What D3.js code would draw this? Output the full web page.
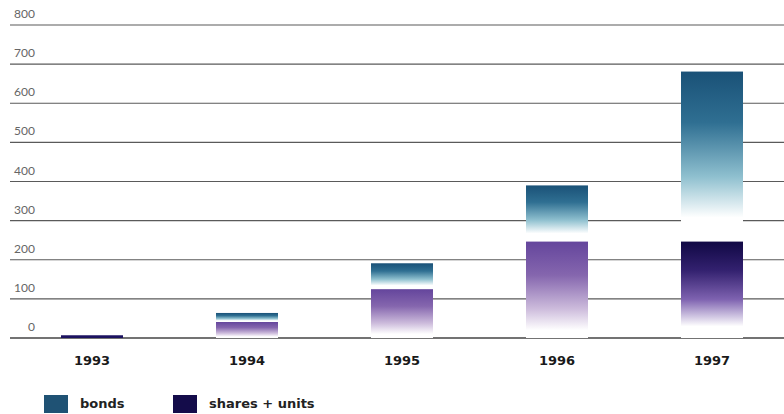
<!DOCTYPE html>
<html>
<head>
<meta charset="utf-8">
<script src="https://cdn.jsdelivr.net/npm/d3@7"></script>
<style>
  body { margin: 0; background: #fff; }
  text { font-family: Lato, "Open Sans", sans-serif; }
  .bold { font-family: "DejaVu Sans", sans-serif; font-weight: bold; }
</style>
</head>
<body>
<script>
// data
var years = ["1993", "1994", "1995", "1996", "1997"];
var shares = [7, 41, 125, 247, 247];
var bonds = [0, 23, 66, 143, 434];
var tickValues = [0, 100, 200, 300, 400, 500, 600, 700, 800];
var shareTone = ["navy", "purple", "purple", "purple", "navy"];

var width = 784, height = 414;

const svg = d3.select("body").append("svg")
    .attr("width", width)
    .attr("height", height);

//gradients
var defs = svg.append("defs");
function grad(id, stops) {
    var g = defs.append("linearGradient")
        .attr("id", id)
        .attr("x1", 0).attr("y1", 0)
        .attr("x2", 0).attr("y2", 1);
    g.selectAll("stop")
        .data(stops)
        .enter()
        .append("stop")
        .attr("offset", function (d) { return d[0]; })
        .attr("stop-color", function (d) { return d[1]; });
}
grad("g-bonds", [[0, "#1a5177"], [0.3, "#2f6f92"], [0.62, "#8fc0cf"], [0.86, "#ffffff"], [1, "#ffffff"]]);
grad("g-purple", [[0, "#64459c"], [0.35, "#8566ae"], [0.7, "#cdbcdc"], [0.92, "#ffffff"], [1, "#ffffff"]]);
grad("g-navy", [[0, "#100844"], [0.3, "#33216f"], [0.6, "#7e62b0"], [0.88, "#ffffff"], [1, "#ffffff"]]);

var x = d3.scaleBand()
    .domain(years)
    .range([14.5, 789.5])
    .paddingInner(0.6)
    .paddingOuter(0.3);

var y = d3.scaleLinear()
    .domain([0, 800])
    .range([338, 25]);

//gridlines + labels
var grid = svg.append("g");
grid.selectAll("line")
    .data(tickValues)
    .enter()
    .append("line")
    .attr("x1", 10)
    .attr("x2", width)
    .attr("y1", function (d) { return y(d); })
    .attr("y2", function (d) { return y(d); })
    .attr("stroke", function (d) { return d === 0 ? "#444" : "#5a5a5a"; })
    .attr("stroke-width", function (d) { return d === 0 ? 1.6 : 1.2; });

grid.selectAll("text")
    .data(tickValues)
    .enter()
    .append("text")
    .attr("x", 35)
    .attr("y", function (d) { return y(d) - 7; })
    .attr("text-anchor", "end")
    .attr("font-size", 12)
    .attr("fill", "#666")
    .text(function (d) { return d; });

//bars: shares at the bottom, bonds stacked on top
var bars = svg.append("g");
bars.selectAll("rect.shares")
    .data(years)
    .enter()
    .append("rect")
    .attr("class", "shares")
    .attr("x", function (d) { return x(d); })
    .attr("width", x.bandwidth())
    .attr("y", function (d, i) { return y(shares[i]); })
    .attr("height", function (d, i) { return y(0) - y(shares[i]); })
    .attr("fill", function (d, i) {
        if (shares[i] < 20) return "#1c1260";
        return "url(#g-" + shareTone[i] + ")";
    });

bars.selectAll("rect.bonds")
    .data(years.filter(function (d, i) { return bonds[i] > 0; }))
    .enter()
    .append("rect")
    .attr("class", "bonds")
    .attr("x", function (d) { return x(d); })
    .attr("width", x.bandwidth())
    .attr("y", function (d) { var i = years.indexOf(d); return y(shares[i] + bonds[i]); })
    .attr("height", function (d) { var i = years.indexOf(d); return y(shares[i]) - y(shares[i] + bonds[i]); })
    .attr("fill", "url(#g-bonds)");

//year labels
svg.append("g").selectAll("text")
    .data(years)
    .enter()
    .append("text")
    .attr("class", "bold")
    .attr("x", function (d) { return x(d) + x.bandwidth() / 2; })
    .attr("y", 365)
    .attr("text-anchor", "middle")
    .attr("font-size", 13)
    .attr("fill", "#1a1a1a")
    .text(function (d) { return d; });

//legend
var legend = [["bonds", "#1f5274", 44], ["shares + units", "#140c4a", 173]];
var lg = svg.append("g").selectAll("g")
    .data(legend)
    .enter()
    .append("g");
lg.append("rect")
    .attr("x", function (d) { return d[2]; })
    .attr("y", 395)
    .attr("width", 24)
    .attr("height", 18)
    .attr("fill", function (d) { return d[1]; });
lg.append("text")
    .attr("class", "bold")
    .attr("x", function (d) { return d[2] + 36; })
    .attr("y", 408)
    .attr("font-size", 13)
    .attr("fill", "#222")
    .text(function (d) { return d[0]; });
</script>
</body>
</html>
